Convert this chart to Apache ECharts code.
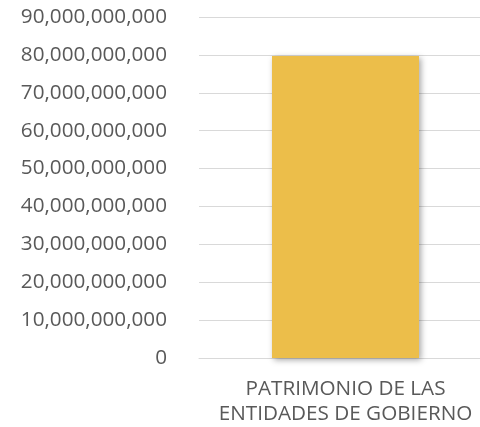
<!DOCTYPE html>
<html>
<head>
<meta charset="utf-8">
<script src="https://cdn.jsdelivr.net/npm/echarts@6/dist/echarts.min.js"></script>
<style>
  html, body { margin: 0; padding: 0; background: #fff; }
  #chart { width: 480px; height: 427px; }
</style>
</head>
<body>
<div id="chart"></div>
<script>
// datos
const categories = ['PATRIMONIO DE LAS\nENTIDADES DE GOBIERNO'];
const valores = [79700000000];

function fmt(v) {
    return v.toLocaleString('en-US');
}

let myChart = echarts.init(document.getElementById('chart'));
myChart.setOption({
    animation: false,
    grid: { left: 199, width: 293, top: 17, bottom: 69, outerBoundsMode: 'none' },
    xAxis: {
        type: 'category',
        data: categories,
        axisLine: { lineStyle: { color: '#D9D9D9', width: 1 } },
        axisTick: { show: false },
        axisLabel: {
            color: '#595959',
            fontFamily: 'Open Sans',
            fontSize: 20.7,
            lineHeight: 25,
            margin: 19
        }
    },
    yAxis: {
        type: 'value',
        min: 0,
        max: 90000000000,
        interval: 10000000000,
        axisLine: { show: false },
        axisTick: { show: false },
        splitLine: { lineStyle: { color: '#D9D9D9', width: 1 } },
        axisLabel: {
            color: '#595959',
            fontFamily: 'Open Sans',
            fontSize: 20.7,
            margin: 32,
            formatter: fmt
        }
    },
    series: [{
        type: 'bar',
        data: valores,
        barWidth: 147,
        itemStyle: {
            color: '#ECBE4A',
            shadowColor: 'rgba(0,0,0,0.35)',
            shadowBlur: 6,
            shadowOffsetX: 2,
            shadowOffsetY: 2
        }
    }]
});
</script>
</body>
</html>
